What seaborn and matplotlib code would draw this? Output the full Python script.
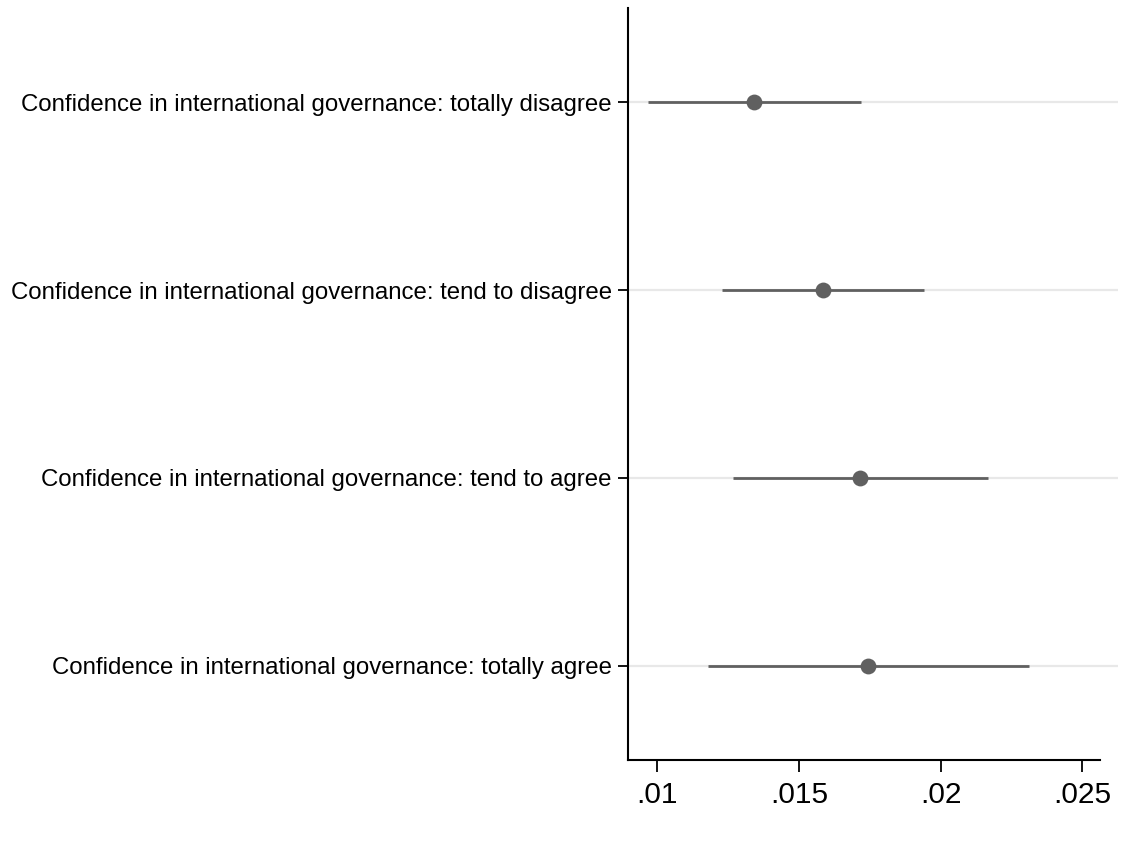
import matplotlib
matplotlib.use("Agg")
import matplotlib.pyplot as plt
import seaborn as sns
import pandas as pd

# Coefficient estimates with 95% confidence intervals
categories = [
    "Confidence in international governance: totally disagree",
    "Confidence in international governance: tend to disagree",
    "Confidence in international governance: tend to agree",
    "Confidence in international governance: totally agree",
]
estimates = [0.01342, 0.01584, 0.01715, 0.01745]
ci_low = [0.00968, 0.01228, 0.01268, 0.01179]
ci_high = [0.01719, 0.01940, 0.02168, 0.02311]
xticks = [0.01, 0.015, 0.02, 0.025]
xtick_labels = [".01", ".015", ".02", ".025"]

df = pd.DataFrame({"category": categories, "estimate": estimates,
                   "lo": ci_low, "hi": ci_high})
df["pos"] = range(1, len(df) + 1)

sns.set_theme(style="white")
plt.rcParams["font.family"] = ["Liberation Sans", "DejaVu Sans"]

fig = plt.figure(figsize=(11.41, 8.46), dpi=100)
ax = fig.add_axes([0.5501, 0.1017, 0.9798 - 0.5501, 0.9905 - 0.1017])

mark = "#606060"
grid = "#e8e8e8"

for y in df["pos"]:
    ax.axhline(y, color=grid, lw=1.6, zorder=0)

ax.hlines(df["pos"], df["lo"], df["hi"], color=mark, lw=2.0, zorder=2)
sns.scatterplot(data=df, x="estimate", y="pos", ax=ax, color=mark,
                s=130, edgecolor=mark, linewidth=0, zorder=3, legend=False)

ax.set_ylim(4.5, 0.5)
ax.set_xlim(0.008956, 0.02626)
ax.set_yticks(df["pos"])
ax.set_yticklabels(df["category"], fontsize=17.3, color="black")
ax.set_xticks(xticks)
ax.set_xticklabels(xtick_labels, fontsize=21.5, color="black")
ax.set_xlabel("")
ax.set_ylabel("")

for side in ["top", "right"]:
    ax.spines[side].set_visible(False)
for side in ["left", "bottom"]:
    ax.spines[side].set_color("black")
    ax.spines[side].set_linewidth(1.5)
ax.spines["bottom"].set_bounds(0.008956, 0.025625)

ax.tick_params(axis="y", length=7, width=1.3, color="black", pad=4.5, left=True)
ax.tick_params(axis="x", length=8.5, width=1.3, color="black", pad=7, bottom=True)

fig.savefig("out.png", dpi=100, facecolor="white")
